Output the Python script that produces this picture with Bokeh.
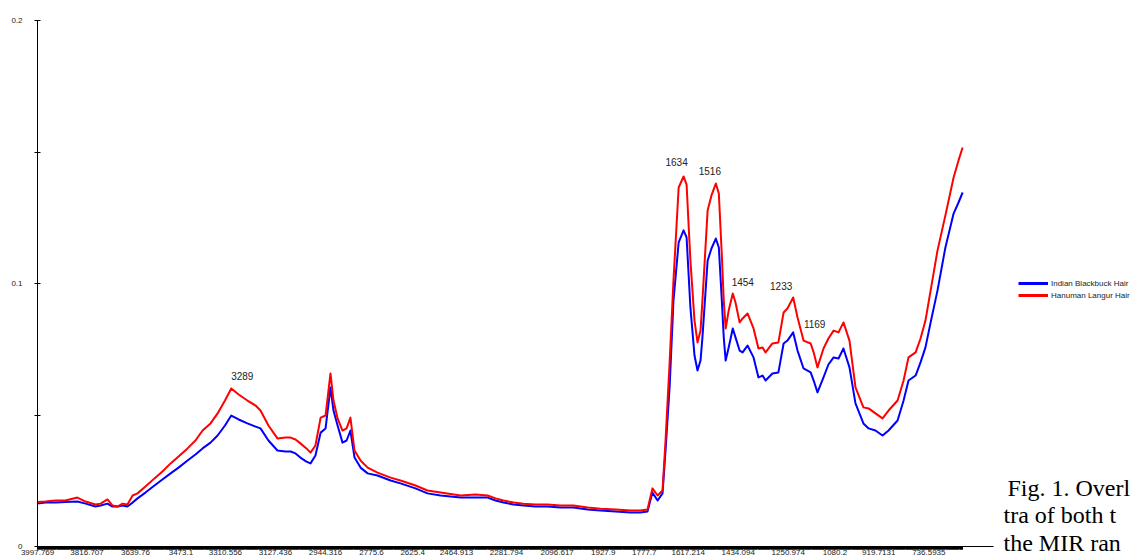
import numpy as np
from bokeh.plotting import figure
from bokeh.layouts import row
from bokeh.models import (ColumnDataSource, Range1d, FixedTicker, Legend,
                          LegendItem, Label)
from bokeh.core.properties import value
from bokeh.embed import file_html
from bokeh.resources import INLINE

# ---- spectra (wavenumber in cm-1, absorbance) ----
wavenumber = [
    3998, 3969, 3932, 3896, 3852, 3822, 3786, 3767, 3742, 3724,
    3705, 3687, 3669, 3650, 3632, 3603, 3570, 3541, 3511, 3482,
    3449, 3420, 3394, 3365, 3339, 3312, 3289, 3262, 3230, 3200,
    3182, 3153, 3120, 3091, 3072, 3054, 3036, 3014, 2999, 2981,
    2962, 2944, 2926, 2915, 2900, 2882, 2867, 2853, 2838, 2816,
    2790, 2754, 2706, 2670, 2615, 2571, 2523, 2450, 2395, 2351,
    2322, 2293, 2256, 2220, 2176, 2132, 2084, 2037, 1985, 1938,
    1883, 1828, 1792, 1766, 1748, 1729, 1711, 1700, 1685, 1671,
    1652, 1634, 1623, 1609, 1594, 1583, 1572, 1565, 1546, 1532,
    1516, 1505, 1494, 1487, 1480, 1469, 1454, 1444, 1429, 1418,
    1400, 1378, 1360, 1345, 1334, 1309, 1287, 1268, 1254, 1233,
    1217, 1195, 1169, 1158, 1144, 1122, 1104, 1085, 1067, 1049,
    1027, 1005, 976, 957, 932, 906, 884, 851, 829, 811,
    785, 767, 749, 727, 705, 676, 646, 628, 613,
]

blackbuck = [
    0.0163, 0.0167, 0.0167, 0.0169, 0.0171, 0.0163, 0.0152, 0.0156, 0.0163, 0.0152,
    0.0152, 0.0156, 0.0152, 0.0167, 0.0183, 0.0205, 0.0232, 0.0255, 0.0278, 0.0300,
    0.0327, 0.0350, 0.0373, 0.0395, 0.0422, 0.0460, 0.0498, 0.0483, 0.0468, 0.0456,
    0.0449, 0.0403, 0.0365, 0.0361, 0.0361, 0.0354, 0.0338, 0.0323, 0.0316, 0.0346,
    0.0433, 0.0449, 0.0605, 0.0517, 0.0460, 0.0395, 0.0403, 0.0441, 0.0338, 0.0300,
    0.0278, 0.0270, 0.0251, 0.0240, 0.0221, 0.0202, 0.0194, 0.0186, 0.0186, 0.0186,
    0.0175, 0.0167, 0.0160, 0.0156, 0.0152, 0.0152, 0.0148, 0.0148, 0.0141, 0.0137,
    0.0133, 0.0129, 0.0129, 0.0133, 0.0205, 0.0175, 0.0202, 0.0365, 0.0608, 0.0935,
    0.1156, 0.1202, 0.1175, 0.0909, 0.0726, 0.0669, 0.0707, 0.0795, 0.1087, 0.1133,
    0.1171, 0.1137, 0.0935, 0.0795, 0.0707, 0.0757, 0.0829, 0.0795, 0.0745, 0.0738,
    0.0764, 0.0719, 0.0643, 0.0650, 0.0631, 0.0658, 0.0662, 0.0772, 0.0783, 0.0814,
    0.0745, 0.0677, 0.0662, 0.0631, 0.0586, 0.0643, 0.0692, 0.0719, 0.0715, 0.0753,
    0.0681, 0.0544, 0.0468, 0.0449, 0.0441, 0.0422, 0.0441, 0.0479, 0.0555, 0.0631,
    0.0650, 0.0700, 0.0757, 0.0867, 0.0973, 0.1137, 0.1266, 0.1308, 0.1346,
]

langur = [
    0.0169, 0.0171, 0.0175, 0.0175, 0.0186, 0.0171, 0.0160, 0.0163, 0.0179, 0.0156,
    0.0152, 0.0163, 0.0160, 0.0194, 0.0202, 0.0228, 0.0259, 0.0285, 0.0316, 0.0342,
    0.0373, 0.0403, 0.0441, 0.0468, 0.0506, 0.0555, 0.0601, 0.0578, 0.0555, 0.0536,
    0.0517, 0.0460, 0.0411, 0.0414, 0.0414, 0.0407, 0.0392, 0.0373, 0.0357, 0.0384,
    0.0490, 0.0498, 0.0658, 0.0555, 0.0487, 0.0441, 0.0449, 0.0490, 0.0365, 0.0327,
    0.0300, 0.0281, 0.0262, 0.0251, 0.0232, 0.0213, 0.0205, 0.0194, 0.0198, 0.0194,
    0.0183, 0.0175, 0.0167, 0.0163, 0.0160, 0.0160, 0.0156, 0.0156, 0.0148, 0.0144,
    0.0141, 0.0137, 0.0137, 0.0141, 0.0221, 0.0194, 0.0213, 0.0403, 0.0700, 0.1011,
    0.1365, 0.1407, 0.1376, 0.1087, 0.0859, 0.0776, 0.0821, 0.0935, 0.1278, 0.1335,
    0.1380, 0.1342, 0.1106, 0.0935, 0.0829, 0.0897, 0.0962, 0.0928, 0.0852, 0.0867,
    0.0886, 0.0829, 0.0753, 0.0757, 0.0738, 0.0772, 0.0776, 0.0890, 0.0905, 0.0947,
    0.0871, 0.0783, 0.0772, 0.0738, 0.0681, 0.0753, 0.0791, 0.0821, 0.0814, 0.0852,
    0.0783, 0.0605, 0.0529, 0.0525, 0.0506, 0.0487, 0.0517, 0.0555, 0.0631, 0.0719,
    0.0738, 0.0791, 0.0859, 0.0992, 0.1125, 0.1259, 0.1403, 0.1468, 0.1517,
]

# annotated band positions (cm-1)
peak_wavenumbers = [3289, 1634, 1516, 1454, 1233, 1169]

# category labels shown under the wavenumber axis
x_tick_labels = ["3997.769", "3816.707", "3639.76", "3473.1", "3310.556",
                 "3127.436", "2944.316", "2775.6", "2625.4", "2464.913",
                 "2281.794", "2096.617", "1927.9", "1777.7", "1617.214",
                 "1434.094", "1250.974", "1080.2", "919.7131", "736.5935"]
y_ticks = [0, 0.1, 0.2]
y_tick_labels = ["0", "0.1", "0.2"]

series_names = ["Indian Blackbuck Hair", "Hanuman Langur Hair"]
series_colors = ["#0000FF", "#FF0000"]

# running text of the page that continues beside the figure
caption_lines = ["Fig. 1. Overl", "tra of both t", "the MIR ran"]

# ---- main spectrum plot ----
p = figure(width=1000, height=558, output_backend="svg", toolbar_location=None,
           x_range=Range1d(3998, 500), y_range=Range1d(0, 0.2),
           min_border_left=37, min_border_right=7,
           min_border_top=20, min_border_bottom=12)
p.frame_align = False
p.xgrid.visible = False
p.ygrid.visible = False
p.outline_line_color = None
p.background_fill_color = "white"
p.border_fill_color = "white"

src = ColumnDataSource(dict(wn=wavenumber, bb=blackbuck, hl=langur))
p.line("wn", "bb", source=src, line_color=series_colors[0], line_width=2,
       line_join="round")
p.line("wn", "hl", source=src, line_color=series_colors[1], line_width=2,
       line_join="round")

# band labels sit just above the upper (langur) trace
asc_wn = np.array(wavenumber[::-1], dtype=float)
asc_hl = np.array(langur[::-1], dtype=float)
peak_y = np.interp(peak_wavenumbers, asc_wn, asc_hl)
label_dx = [11, -7, -6, 10, -12, 4]
label_dy = [-12, -14, -13, -11, -11, -19]
lab_src = ColumnDataSource(dict(x=peak_wavenumbers, y=peak_y,
                                text=[str(w) for w in peak_wavenumbers],
                                dx=label_dx, dy=label_dy))
p.text(x="x", y="y", text="text", x_offset="dx", y_offset="dy", source=lab_src,
       text_align="center", text_baseline="middle",
       text_font=value("Liberation Sans"), text_font_size="10px",
       text_color="#222222")

# ---- axes ----
x_tick_values = [float(s) for s in x_tick_labels]
xa = p.xaxis[0]
xa.ticker = FixedTicker(ticks=x_tick_values,
                        minor_ticks=list(np.arange(wavenumber[-1], wavenumber[0], 1.9)))
xa.major_label_overrides = dict(zip(x_tick_values, x_tick_labels))
xa.axis_line_color = "black"
xa.axis_line_width = 1
xa.major_tick_in = 0
xa.major_tick_out = 3
xa.minor_tick_in = 0
xa.minor_tick_out = 3
xa.major_tick_line_color = "black"
xa.minor_tick_line_color = "black"
xa.major_label_standoff = 0
xa.major_label_text_font = "Liberation Sans"
xa.major_label_text_font_size = "8px"
xa.major_label_text_color = "#222222"

ya = p.yaxis[0]
ya.ticker = FixedTicker(ticks=y_ticks, minor_ticks=[0.05, 0.15])
ya.major_label_overrides = dict(zip(y_ticks, y_tick_labels))
ya.axis_line_color = "black"
ya.major_tick_in = 3
ya.major_tick_out = 3
ya.minor_tick_in = 3
ya.minor_tick_out = 3
ya.major_tick_line_color = "black"
ya.minor_tick_line_color = "black"
ya.major_label_standoff = 12
ya.major_label_text_font = "Liberation Sans"
ya.major_label_text_font_size = "8px"
ya.major_label_text_color = "#222222"

# ---- side strip: legend and page text (pixel-like coordinates, y down) ----
side = figure(width=132, height=558, output_backend="svg", toolbar_location=None,
              x_range=Range1d(0, 132), y_range=Range1d(558, 0),
              min_border=0, x_axis_location=None, y_axis_location=None)
side.frame_align = False
side.xgrid.visible = False
side.ygrid.visible = False
side.outline_line_color = None
side.background_fill_color = "white"
side.border_fill_color = "white"

# legend keys styled like the two traces (no points of their own)
keys = [side.line(x=[np.nan], y=[np.nan], line_color=c, line_width=3)
        for c in series_colors]
legend = Legend(items=[LegendItem(label=n, renderers=[r])
                       for n, r in zip(series_names, keys)],
                location=(18, 258), orientation="vertical",
                border_line_color=None, background_fill_alpha=0,
                glyph_width=30, glyph_height=10, label_height=10,
                label_standoff=3, spacing=2, padding=0, margin=0,
                label_text_font="Liberation Sans", label_text_font_size="8px",
                label_text_color="#222222")
side.add_layout(legend)

for i, line in enumerate(caption_lines):
    side.add_layout(Label(x=7 if i == 0 else 3, y=487 + 27.5 * i, text=line,
                          text_baseline="alphabetic",
                          text_font="Liberation Serif", text_font_size="24px",
                          text_color="black"))

open("out.html", "w").write(file_html(row(p, side), INLINE))
